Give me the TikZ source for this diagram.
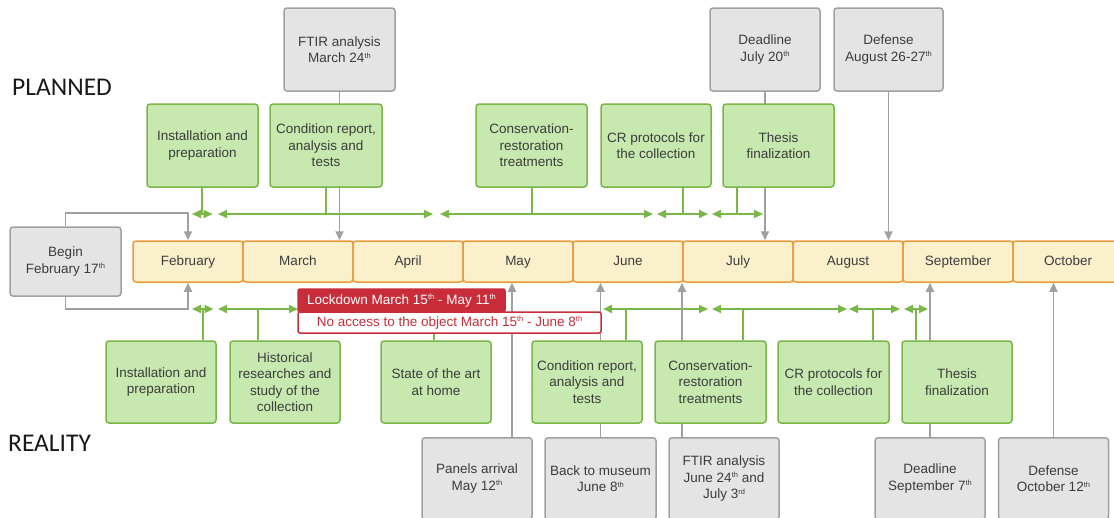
\documentclass[tikz,border=0pt]{standalone}
\usepackage{fontspec}
\setmainfont{Liberation Sans}
\newfontfamily\headfont{Carlito}
\usetikzlibrary{arrows.meta,calc}
\pgfdeclarelayer{background}
\pgfsetlayers{background,main}
\definecolor{gfill}{HTML}{C7E8AE}
\definecolor{gedge}{HTML}{7AB648}
\definecolor{grfill}{HTML}{E4E4E4}
\definecolor{gredge}{HTML}{A0A0A0}
\definecolor{mfill}{HTML}{FBF0CC}
\definecolor{medge}{HTML}{EE9A3A}
\definecolor{redc}{HTML}{C92D39}
\definecolor{txt}{HTML}{3C3C3C}
\newcommand\supx[1]{\raisebox{4.5pt}{\fontsize{7.5}{8}\selectfont #1}}
\begin{document}
\begin{tikzpicture}[x=1pt,y=-1pt,
  every node/.style={font=\fontsize{13.5}{16.5}\selectfont, text=txt, align=center, inner sep=1pt},
  greenbox/.style={draw=gedge, fill=gfill, line width=1.5pt, rounded corners=3pt, minimum width=110pt, minimum height=82pt},
  greybox/.style={draw=gredge, fill=grfill, line width=1.5pt, rounded corners=3pt, minimum width=110pt, minimum height=82pt},
  monthbox/.style={draw=medge, fill=mfill, line width=1.5pt, rounded corners=3pt, minimum width=110pt, minimum height=41pt, text height=9.8pt, text depth=2.8pt},
  headlabel/.style={font=\headfont\fontsize{25.5}{30}\selectfont, text=black!90, anchor=west, inner sep=0pt},
  gbar/.style={draw=gedge, line width=2pt, {Triangle[length=9pt,width=8pt]}-{Triangle[length=9pt,width=8pt]}},
  gstem/.style={draw=gedge, line width=2pt},
  garrow/.style={draw=gredge, line width=1.8pt, -{Triangle[length=9pt,width=8pt]}}
]
\useasboundingbox (0,0) rectangle (1114,517);
\clip (0,0) rectangle (1114,517);

% headings
\node[headlabel] (planned) at (12,87) {PLANNED};
\node[headlabel] (reality) at (8,443) {REALITY};

% month boxes
\node[monthbox] (feb) at (188,261.5) {February};
\node[monthbox] (mar) at (298,261.5) {March};
\node[monthbox] (apr) at (408,261.5) {April};
\node[monthbox] (may) at (518,261.5) {May};
\node[monthbox] (jun) at (628,261.5) {June};
\node[monthbox] (jul) at (738,261.5) {July};
\node[monthbox] (aug) at (848,261.5) {August};
\node[monthbox] (sep) at (958,261.5) {September};
\node[monthbox] (oct) at (1068,261.5) {October};

% begin
\node[greybox, minimum height=69pt, minimum width=111pt] (begin) at (65.5,261.5) {Begin\\February 17\supx{th}};

% planned milestones (grey)
\node[greybox, minimum height=83pt, minimum width=111pt] (ftirp) at (339.5,49.5) {FTIR analysis\\March 24\supx{th}};
\node[greybox, minimum height=83pt] (dlj) at (765,49.5) {Deadline\\July 20\supx{th}};
\node[greybox, minimum height=83pt, minimum width=109pt] (defa) at (888.5,49.5) {Defense\\August 26-27\supx{th}};

% planned tasks (green)
\node[greenbox, minimum height=83pt, minimum width=111pt] (pinst) at (202.5,145.5) {Installation and\\preparation};
\node[greenbox, minimum height=83pt, minimum width=112pt] (pcond) at (326,145.5) {Condition report,\\analysis and\\tests};
\node[greenbox, minimum height=83pt, minimum width=111pt] (pcons) at (531.5,145.5) {Conservation-\\restoration\\treatments};
\node[greenbox, minimum height=83pt] (pcr) at (656,145.5) {CR protocols for\\the collection};
\node[greenbox, minimum height=83pt, minimum width=111pt] (pthes) at (778.5,145.5) {Thesis\\finalization};

% lockdown
\node[draw=redc, fill=white, rounded corners=2pt, line width=1.5pt, minimum width=303pt, minimum height=21pt, text=redc] (noacc) at (449.5,322.5) {No access to the object March 15\supx{th} - June 8\supx{th}};
\node[draw=redc, fill=redc, rounded corners=2pt, line width=1.5pt, minimum width=207pt, minimum height=23pt, text=white] (lock) at (401.5,300.5) {Lockdown March 15\supx{th} - May 11\supx{th}};

% reality tasks (green)
\node[greenbox] (rinst) at (161,382) {Installation and\\preparation};
\node[greenbox] (rhist) at (285,382) {Historical\\researches and\\study of the\\collection};
\node[greenbox] (rstate) at (436,382) {State of the art\\at home};
\node[greenbox] (rcond) at (587,382) {Condition report,\\analysis and\\tests};
\node[greenbox, minimum width=111pt] (rcons) at (710.5,382) {Conservation-\\restoration\\treatments};
\node[greenbox, minimum width=111pt] (rcr) at (833.5,382) {CR protocols for\\the collection};
\node[greenbox] (rthes) at (957,382) {Thesis\\finalization};

% reality milestones (grey)
\node[greybox, anchor=north, minimum height=82pt] (panels) at (477,437) {Panels arrival\\May 12\supx{th}};
\node[greybox, anchor=north, minimum height=82pt, minimum width=111pt] (back) at (600.5,437) {Back to museum\\June 8\supx{th}};
\node[greybox, anchor=north, minimum height=82pt] (ftirr) at (724,437) {FTIR analysis\\June 24\supx{th} and\\July 3\supx{rd}};
\node[greybox, anchor=north, minimum height=82pt] (dls) at (930,437) {Deadline\\September 7\supx{th}};
\node[greybox, anchor=north, minimum height=82pt] (defo) at (1053.5,437) {Defense\\October 12\supx{th}};

% bar coordinates
\coordinate (ps1) at (202,214);
\coordinate (ps2) at (326,214);
\coordinate (ps3) at (532,214);
\coordinate (ps4) at (683,214);
\coordinate (ps5) at (737,214);
\coordinate (rs1) at (203,309);
\coordinate (rs2) at (258,309);
\coordinate (rs3) at (434,309);
\coordinate (rs4) at (626,309);
\coordinate (rs5) at (743,309);
\coordinate (rs6) at (873,309);
\coordinate (rs7) at (916,309);
\coordinate (panx) at ([xshift=35pt]panels.north);
\coordinate (ftrx) at ([xshift=-42pt]ftirr.north);

\begin{pgfonlayer}{background}
  % planned bars
  \draw[gbar] (192,214) -- (212.5,214);
  \draw[gbar] (218,214) -- (433,214);
  \draw[gbar] (440,214) -- (653,214);
  \draw[gbar] (657,214) -- (708,214);
  \draw[gbar] (712,214) -- (763,214);
  \draw[gstem] (ps1 |- pinst.south) -- (ps1);
  \draw[gstem] (ps2 |- pcond.south) -- (ps2);
  \draw[gstem] (ps3 |- pcons.south) -- (ps3);
  \draw[gstem] (ps4 |- pcr.south) -- (ps4);
  \draw[gstem] (ps5 |- pthes.south) -- (ps5);
  % reality bars
  \draw[gbar] (192,309) -- (213.5,309);
  \draw[gbar] (218,309) -- (298,309);
  \draw[gbar] (603,309) -- (708,309);
  \draw[gbar] (712,309) -- (847,309);
  \draw[gbar] (849,309) -- (900,309);
  \draw[gbar] (904,309) -- (928,309);
  \draw[gstem] (rs1 |- rinst.north) -- (rs1);
  \draw[gstem] (rs2 |- rhist.north) -- (rs2);
  \draw[gstem] (rs3 |- rstate.north) -- (rs3);
  \draw[gstem] (rs4 |- rcond.north) -- (rs4);
  \draw[gstem] (rs5 |- rcons.north) -- (rs5);
  \draw[gstem] (rs6 |- rcr.north) -- (rs6);
  \draw[gstem] (rs7 |- rthes.north) -- (rs7);
  % grey arrows
  \draw[garrow] (begin.north) -- ++(0,-13) -| (feb.north);
  \draw[garrow] (begin.south) -- ++(0,12) -| (feb.south);
  \draw[garrow] (ftirp.south) -- (ftirp.south |- mar.north);
  \draw[garrow] (dlj.south) -- (dlj.south |- jul.north);
  \draw[garrow] (defa.south) -- (defa.south |- aug.north);
  \draw[garrow] (panx) -- (panx |- may.south);
  \draw[garrow] (back.north) -- (back.north |- jun.south);
  \draw[garrow] (ftrx) -- (ftrx |- jul.south);
  \draw[garrow] (dls.north) -- (dls.north |- sep.south);
  \draw[garrow] (defo.north) -- (defo.north |- oct.south);
\end{pgfonlayer}
\end{tikzpicture}
\end{document}
